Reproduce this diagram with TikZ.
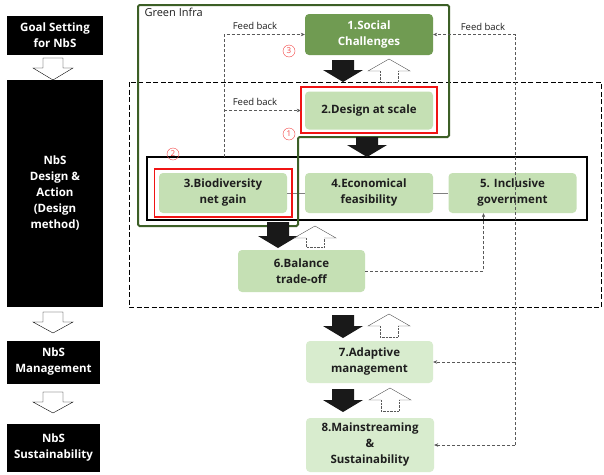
\documentclass[tikz,border=0pt]{standalone}
\usepackage{fontspec}
\setmainfont{Open Sans}
\usetikzlibrary{arrows.meta}

\definecolor{darkgreen}{RGB}{112,155,82}
\definecolor{lightgreen}{RGB}{197,224,180}
\definecolor{palegreen}{RGB}{216,236,206}
\definecolor{framegreen}{RGB}{60,95,38}
\definecolor{darktext}{RGB}{30,30,30}
\definecolor{markred}{RGB}{240,20,20}

\tikzset{
  sidebox/.style={fill=black, text=white, align=center, inner sep=0pt,
    font=\fontsize{11.5}{16}\selectfont\bfseries},
  stepnode/.style={fill=lightgreen, rounded corners=4pt, align=center, inner sep=0pt,
    text=darktext, minimum width=128pt, minimum height=40pt,
    font=\fontsize{11.5}{16}\selectfont\bfseries},
  redline/.style={draw=markred, line width=1.6pt},
  fb/.style={gray!70!black, dash pattern=on 3pt off 2pt, -{Stealth[length=4pt,width=3.5pt]}},
  fbtext/.style={text=darktext, font=\fontsize{9.5}{10}\selectfont},
  circnum/.style={circle, draw=markred!80, text=markred!80, thin, inner sep=0pt, minimum size=12pt,
    font=\fontsize{8}{8}\selectfont},
}

\begin{document}
\begin{tikzpicture}[x=1pt,y=-1pt]
  \useasboundingbox (0,0) rectangle (604,474);
  \fill[white] (0,0) rectangle (604,474);

  \node[sidebox, minimum width=96pt, minimum height=39pt] (goal) at (55,35.5) {Goal Setting\\for NbS};
  \node[sidebox, minimum width=96pt, minimum height=227pt] (design) at (55,193.5) {NbS\\Design \&\\Action\\(Design\\method)};
  \node[sidebox, minimum width=93pt, minimum height=43pt] (manage) at (53.5,362) {NbS\\Management};
  \node[sidebox, minimum width=93pt, minimum height=48pt] (sustain) at (53.5,448) {NbS\\Sustainability};
  \foreach \t/\b in {58/80, 312/333, 392/413}
    \draw[fill=white, thin] (43,\t) -- (63,\t) -- (63,\t+10) -- (73,\t+10) -- (53,\b)
      -- (33,\t+10) -- (43,\t+10) -- cycle;

  \draw[line width=1pt, dash pattern=on 5pt off 2.5pt] (129,82) rectangle (601,307);

  \node[stepnode, fill=darkgreen, text=white, minimum height=41pt] (s1) at (369,34.5) {1.Social\\Challenges};
  \node[stepnode, minimum height=38pt] (s2) at (369,110.5) {2.Design at scale};
  \node[stepnode] (s3) at (223,193) {3.Biodiversity\\net gain};
  \node[stepnode] (s4) at (369,193) {4.Economical\\feasibility};
  \node[stepnode] (s5) at (512.5,193) {5. Inclusive\\government};
  \node[stepnode, minimum height=42pt, minimum width=127pt] (s6) at (301.5,271) {6.Balance\\trade-off};
  \node[stepnode, fill=palegreen, minimum height=42pt, minimum width=127pt] (s7) at (369.5,362) {7.Adaptive\\management};
  \node[stepnode, fill=palegreen, minimum height=54pt] (s8) at (370,445) {8.Mainstreaming\\\&\\Sustainability};

  \draw[gray] (s3.east) -- (s4.west);
  \draw[gray] (s4.east) -- (s5.west);

  \draw[redline] ([shift={(-4,-4.5)}]s2.north west) rectangle ([shift={(4,3.5)}]s2.south east);
  \draw[redline] ([shift={(-4.5,-4)}]s3.north west) rectangle ([shift={(4.5,4)}]s3.south east);
  \draw[line width=1.5pt] (147,157) rectangle (587,220);

  \draw[framegreen, line width=2pt, rounded corners=1.5pt]
    (138,5) -- (449,5) -- (449,137) -- (298,137) -- (298,226) -- (138,226) -- cycle;
  \node[anchor=north west, text=darktext, font=\fontsize{11}{12}\selectfont] (infra) at (141,5) {Green Infra};

  \foreach \x/\t/\b in {343/60/82, 367/137/157, 278/222/248, 343/315/338, 343/389/412}
    \fill[black!90] (\x-11,\t) -- (\x+11,\t) -- (\x+11,\b-12) -- (\x+20,\b-12) -- (\x,\b)
      -- (\x-20,\b-12) -- (\x-11,\b-12) -- cycle;
  \foreach \x/\t/\b in {389/59/82, 315/226/247, 389/314/337, 390/388/411} {
    \draw[gray!70!black, thin] (\x-9,\t+12) -- (\x-21,\t+12) -- (\x,\t) -- (\x+21,\t+12) -- (\x+9,\t+12);
    \draw[gray!70!black, densely dotted] (\x-9,\t+12) -- (\x-9,\b) -- (\x+9,\b) -- (\x+9,\t+12);
  }

  \coordinate (fbl) at (224,157);
  \coordinate (fbr) at (515,445);
  \draw[fb] (fbl) |- (s1.west);
  \draw[fb] (fbl |- s2.west) -- ([xshift=-4pt]s2.west);
  \draw[fb] (fbr) |- (s1.east);
  \draw[fb] (fbr |- s7.east) -- (s7.east);
  \draw[fb] (fbr) -- (s8.east);
  \draw[fb] (s6.east) -| ([xshift=-29pt]s5.south);
  \node[fbtext] (fb1) at (255,26) {Feed back};
  \node[fbtext] (fb2) at (255,102) {Feed back};
  \node[fbtext] (fb3) at (483,27) {Feed back};

  \node[circnum] (c3) at (289,51) {3};
  \node[circnum] (c1) at (289,134) {1};
  \node[circnum] (c2) at (173,154) {2};
\end{tikzpicture}
\end{document}
